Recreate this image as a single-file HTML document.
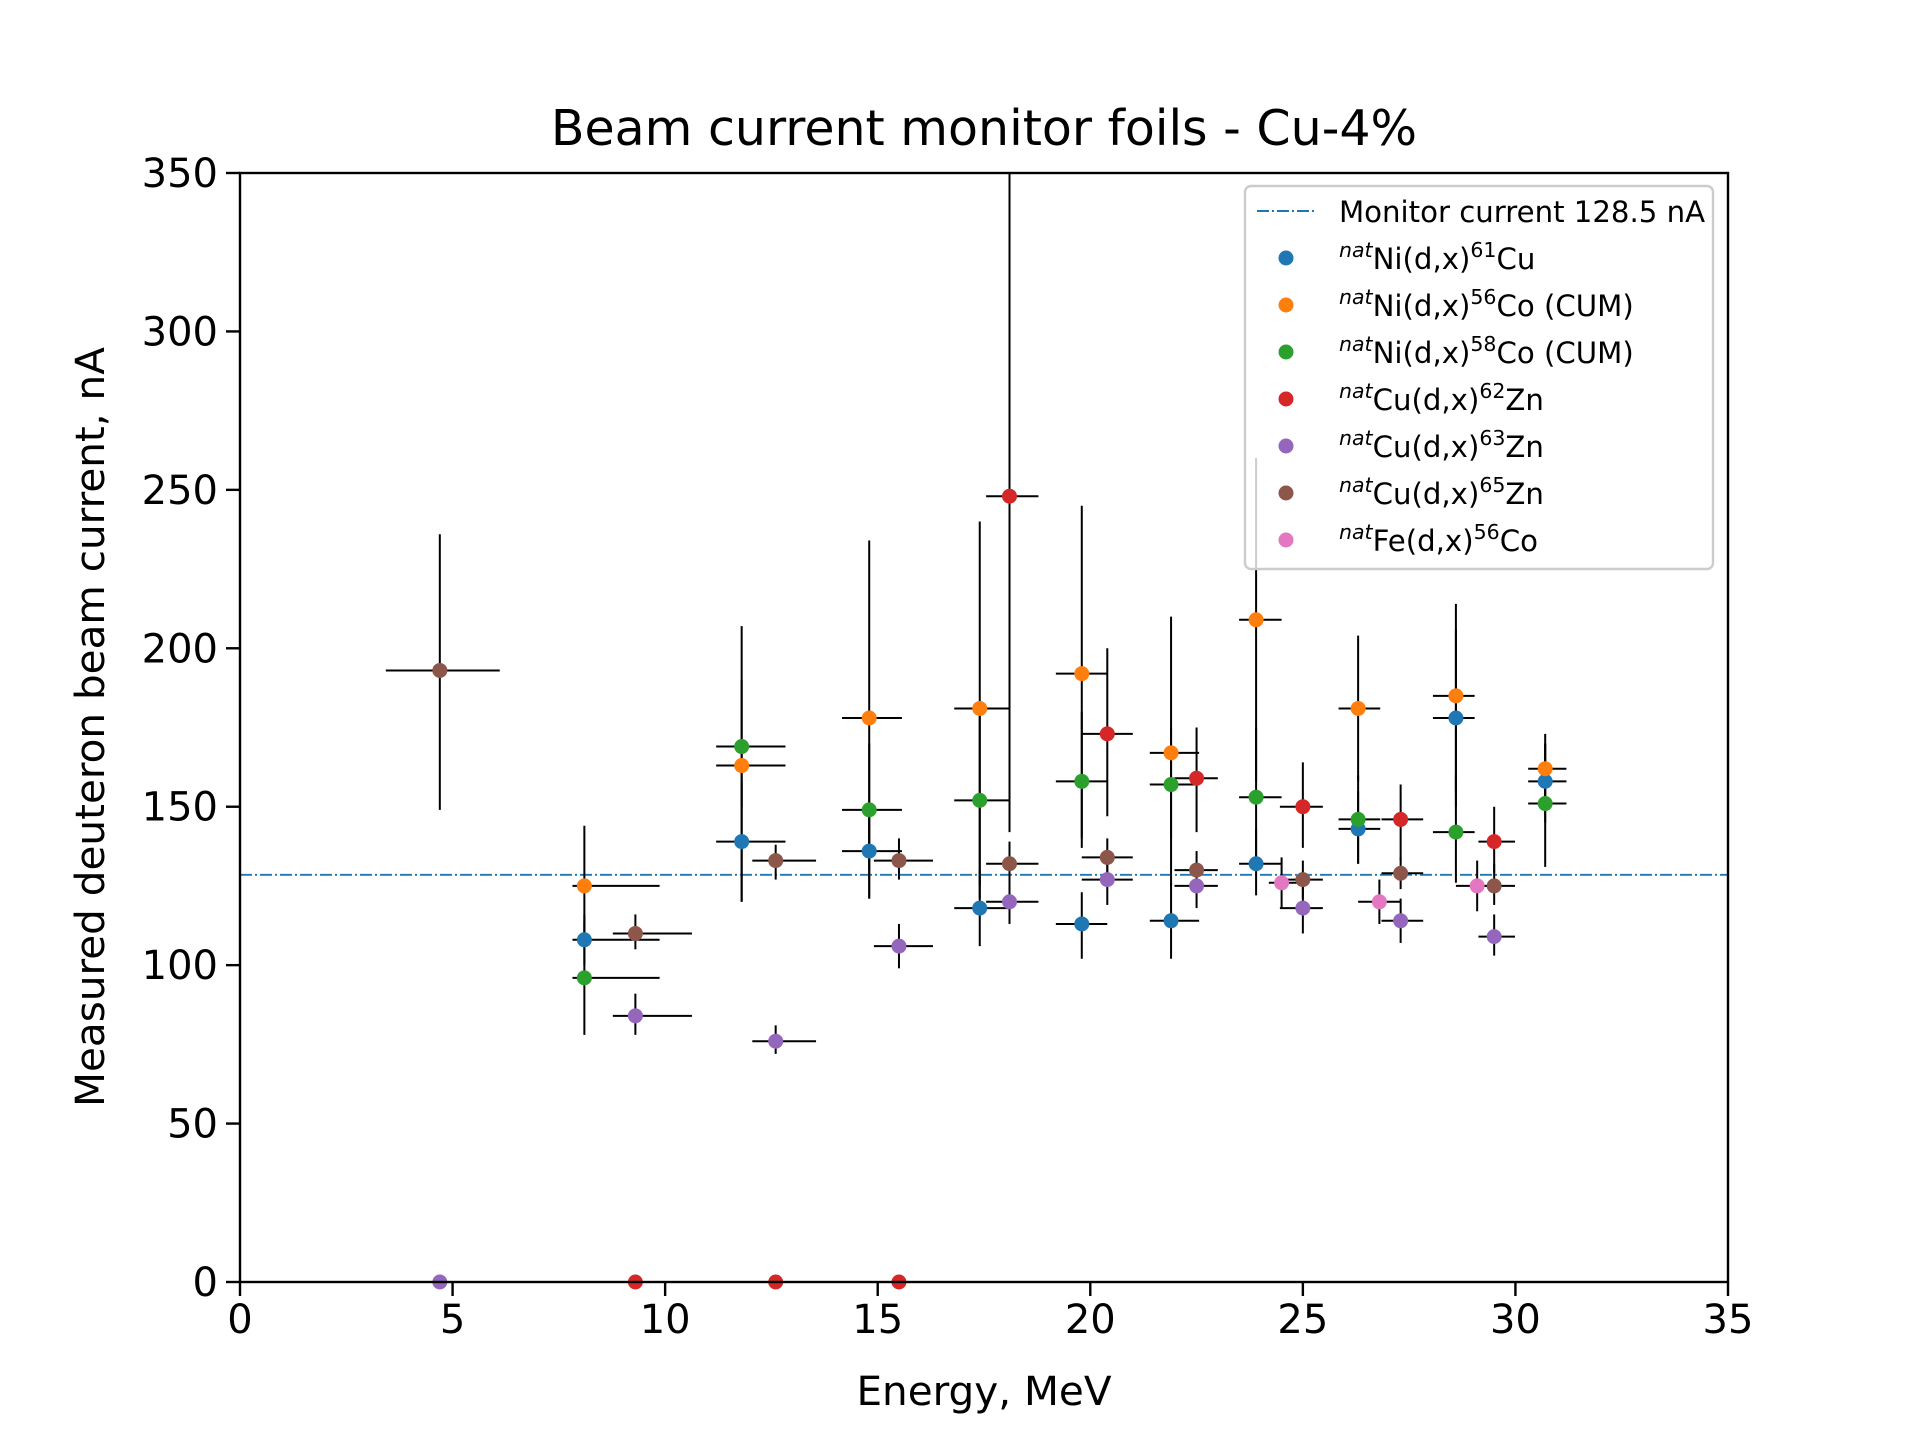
<!DOCTYPE html>
<html><head><meta charset="utf-8"><style>
html,body{margin:0;padding:0;background:#fff;}
svg text{font-family:"DejaVu Sans","Liberation Sans",sans-serif;}
</style></head><body>
<svg id="chart" width="1920" height="1440" viewBox="0 0 1920 1440" xmlns="http://www.w3.org/2000/svg">
<rect width="1920" height="1440" fill="#fff"/>
<g id="marks"></g>
<g id="axes"></g>
<text x="984" y="145" font-size="49" text-anchor="middle">Beam current monitor foils - Cu-4%</text>
<text x="984" y="1405" font-size="40.5" text-anchor="middle">Energy, MeV</text>
<text transform="translate(104,727) rotate(-90)" font-size="40.5" text-anchor="middle">Measured deuteron beam current, nA</text>
<g id="legend"></g>
</svg>
<script>
const xTicks=[0,5,10,15,20,25,30,35];
const yTicks=[0,50,100,150,200,250,300,350];
const monitorCurrent=128.5;
const energies=[4.7,8.1,9.3,11.8,12.6,14.8,15.5,17.4,18.1,19.8,20.4,21.9,22.5,23.9,24.5,25.0,26.3,26.8,27.3,28.6,29.1,29.5,30.7];
const eLo=[3.43,7.82,8.77,11.2,12.05,14.16,14.91,16.8,17.55,19.19,19.8,21.4,21.98,23.5,24.2,24.46,25.84,26.3,26.85,28.06,28.6,29.13,30.3];
const eHi=[6.11,9.87,10.63,12.83,13.55,15.57,16.3,18.1,18.78,20.4,21.0,22.56,23.0,24.5,24.9,25.47,26.82,27.3,27.83,29.04,29.5,29.99,31.2];
const labels=['Ni(d,x)|61|Cu','Ni(d,x)|56|Co (CUM)','Ni(d,x)|58|Co (CUM)','Cu(d,x)|62|Zn','Cu(d,x)|63|Zn','Cu(d,x)|65|Zn','Fe(d,x)|56|Co'];
const colors=['#1f77b4','#ff7f0e','#2ca02c','#d62728','#9467bd','#8c564b','#e377c2'];
const cuX=[8.1,11.8,14.8,17.4,19.8,21.9,23.9,26.3,28.6,30.7];
const cuY=[108,139,136,118,113,114,132,143,178,158];
const cuLo=[100,120,121,106,102,102,122,132,150,145];
const cuHi=[116,158,150,130,123,126,143,155,206,170];
const co56X=[8.1,11.8,14.8,17.4,19.8,21.9,23.9,26.3,28.6,30.7];
const co56Y=[125,163,178,181,192,167,209,181,185,162];
const co56Lo=[106,120,121,121,140,125,158,158,155,150];
const co56Hi=[144,207,234,240,245,210,260,204,214,173];
const co58X=[8.1,11.8,14.8,17.4,19.8,21.9,23.9,26.3,28.6,30.7];
const co58Y=[96,169,149,152,158,157,153,146,142,151];
const co58Lo=[78,150,130,125,137,140,130,132,126,131];
const co58Hi=[114,190,170,180,180,175,175,160,160,170];
const zn62X=[9.3,12.6,15.5,18.1,20.4,22.5,25.0,27.3,29.5];
const zn62Y=[0,0,0,248,173,159,150,146,139];
const zn62Lo=[0,0,0,142,147,142,137,133,129];
const zn62Hi=[0,0,0,355,200,175,164,157,150];
const zn63X=[4.7,9.3,12.6,15.5,18.1,20.4,22.5,25.0,27.3,29.5];
const zn63Y=[0,84,76,106,120,127,125,118,114,109];
const zn63Lo=[0,78,72,99,113,119,118,110,107,103];
const zn63Hi=[0,91,81,113,128,134,132,126,121,116];
const zn65X=[4.7,9.3,12.6,15.5,18.1,20.4,22.5,25.0,27.3,29.5];
const zn65Y=[193,110,133,133,132,134,130,127,129,125];
const zn65Lo=[149,105,127,127,126,128,124,121,124,119];
const zn65Hi=[236,116,138,140,139,140,136,133,134,132];
const feX=[24.5,26.8,29.1];
const feY=[126,120,125];
const feLo=[118,113,117];
const feHi=[134,127,133];
const series=[[cuX,cuY,cuLo,cuHi],[co56X,co56Y,co56Lo,co56Hi],[co58X,co58Y,co58Lo,co58Hi],[zn62X,zn62Y,zn62Lo,zn62Hi],[zn63X,zn63Y,zn63Lo,zn63Hi],[zn65X,zn65Y,zn65Lo,zn65Hi],[feX,feY,feLo,feHi]];

const L=240,R=1728,T=173,B=1282;
const sx=v=>L+(v-0)/(35-0)*(R-L);
const sy=v=>B-(v-0)/(350-0)*(B-T);
const NS='http://www.w3.org/2000/svg';
function mk(tag,attrs,parent){const e=document.createElementNS(NS,tag);for(const k in attrs)e.setAttribute(k,attrs[k]);parent.appendChild(e);return e;}
const marks=document.getElementById('marks'),axes=document.getElementById('axes'),leg=document.getElementById('legend');
const defs=mk('defs',{},marks);const cp=mk('clipPath',{id:'clip'},defs);mk('rect',{x:L,y:T,width:R-L,height:B-T},cp);
const g=mk('g',{'clip-path':'url(#clip)'},marks);
const ml=mk('line',{x1:L,x2:R,y1:sy(monitorCurrent),y2:sy(monitorCurrent),stroke:'#1f77b4','stroke-width':1.9,'stroke-dasharray':'12 3 2 3'},g);


series.forEach((s,si)=>{
  const [xs,ys,lo,hi]=s;
  xs.forEach((x,i)=>{
    const ei=energies.indexOf(x);
    const eb=mk('g',{stroke:'#000','stroke-width':2},g);
    
    
    mk('line',{x1:sx(eLo[ei]),x2:sx(eHi[ei]),y1:sy(ys[i]),y2:sy(ys[i])},eb);
    if(hi[i]>lo[i])mk('line',{x1:sx(x),x2:sx(x),y1:sy(lo[i]),y2:sy(hi[i])},eb);
  });
});
series.forEach((s,si)=>{
  const [xs,ys]=s;
  xs.forEach((x,i)=>{
    const c=mk('circle',{cx:sx(x),cy:sy(ys[i]),r:7.5,fill:colors[si]},marks);
    
    
  });
});
mk('rect',{x:L,y:T,width:R-L,height:B-T,fill:'none',stroke:'#000','stroke-width':2.4},axes);
xTicks.forEach(v=>{
  mk('line',{x1:sx(v),x2:sx(v),y1:B,y2:B+14,stroke:'#000','stroke-width':2.4},axes);
  const t=mk('text',{x:sx(v),y:B+51,'font-size':40,'text-anchor':'middle'},axes);t.textContent=v;
  
  
});
yTicks.forEach(v=>{
  mk('line',{x1:L-14,x2:L,y1:sy(v),y2:sy(v),stroke:'#000','stroke-width':2.4},axes);
  const t=mk('text',{x:L-22,y:sy(v)+14,'font-size':40,'text-anchor':'end'},axes);t.textContent=v;
  
  
});
mk('rect',{x:1245,y:186,width:468,height:383,rx:6,fill:'#fff','fill-opacity':0.8,stroke:'#ccc','stroke-width':2.4},leg);
mk('line',{x1:1257,x2:1314,y1:211,y2:211,stroke:'#1f77b4','stroke-width':1.9,'stroke-dasharray':'12 3 2 3'},leg);
const lt=mk('text',{x:1339,y:222,'font-size':29.2},leg);lt.textContent='Monitor current 128.5 nA';


labels.forEach((lab,i)=>{
  const y=258+i*47;
  mk('circle',{cx:1286,cy:y,r:7.5,fill:colors[i]},leg);
  const p=lab.split('|');
  const t=mk('text',{x:1339,y:y+11,'font-size':29.2},leg);
  
  
  const a=mk('tspan',{'font-size':20.5,'font-style':'italic',dy:-12},t);a.textContent='nat';
  const b=mk('tspan',{'font-size':29.2,dy:12},t);b.textContent=p[0];
  const c=mk('tspan',{'font-size':20.5,dy:-12},t);c.textContent=p[1];
  const d=mk('tspan',{'font-size':29.2,dy:12},t);d.textContent=p[2];
});
</script>
</body></html>
